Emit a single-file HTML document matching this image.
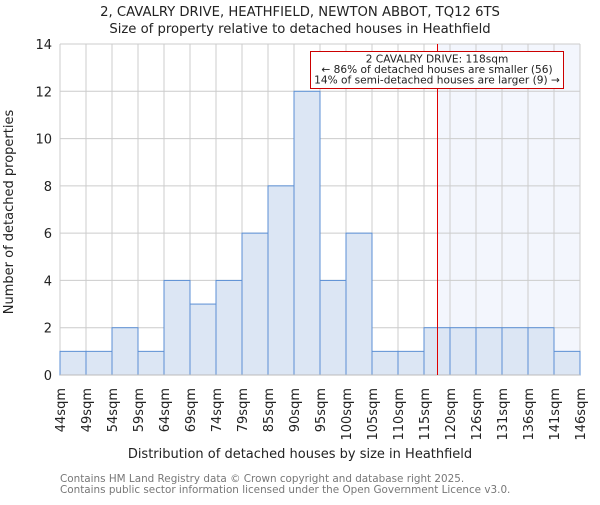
<!DOCTYPE html>
<html><head><meta charset="utf-8"><style>
body{margin:0;background:#fff;}
svg{font-family:"DejaVu Sans","Liberation Sans",sans-serif;}
</style></head><body>
<svg id="c" width="600" height="500">
<text x="300" y="16" text-anchor="middle" font-size="13.2" fill="#222">2, CAVALRY DRIVE, HEATHFIELD, NEWTON ABBOT, TQ12 6TS</text>
<text x="300" y="33" text-anchor="middle" font-size="13.2" fill="#222">Size of property relative to detached houses in Heathfield</text>
<text x="300" y="458" text-anchor="middle" font-size="13" fill="#222">Distribution of detached houses by size in Heathfield</text>
<text transform="translate(13,212) rotate(-90)" text-anchor="middle" font-size="13" fill="#222">Number of detached properties</text>
<text x="60" y="482" font-size="10.4" fill="#777">Contains HM Land Registry data © Crown copyright and database right 2025.</text>
<text x="60" y="493" font-size="10.4" fill="#777">Contains public sector information licensed under the Open Government Licence v3.0.</text>
</svg>
<script>
const categories=["44sqm","49sqm","54sqm","59sqm","64sqm","69sqm","74sqm","79sqm","85sqm","90sqm","95sqm","100sqm","105sqm","110sqm","115sqm","120sqm","126sqm","131sqm","136sqm","141sqm","146sqm"];
const values=[1,1,2,1,4,3,4,6,8,12,4,6,1,1,2,2,2,2,2,1];
const yTicks=[0,2,4,6,8,10,12,14];
const markerBin=14.5;
const svg=document.getElementById('c');
const NS='http://www.w3.org/2000/svg';
const L=60,R=580,T=44,B=375,yMax=14;
const bw=(R-L)/values.length;
const x=i=>L+i*bw;
const y=v=>B-(B-T)*v/yMax;
function mk(t,a,p){const e=document.createElementNS(NS,t);for(const k in a)e.setAttribute(k,a[k]);(p||svg).appendChild(e);return e;}
const mx=Math.floor(x(markerBin))+0.5;
const sh=mk('rect',{x:mx,y:T,width:R-mx,height:B-T,fill:'#f3f6fd'});


yTicks.forEach(t=>{
 const g=mk('line',{x1:L,x2:R,y1:y(t),y2:y(t),stroke:'#ccc','stroke-width':1});
 
 
 const tx=mk('text',{x:L-8,y:y(t)+5,'text-anchor':'end','font-size':13,fill:'#222'});
 tx.textContent=t;
 
 
});
categories.forEach((c,i)=>{
 const g=mk('line',{x1:x(i),x2:x(i),y1:T,y2:B,stroke:'#ccc','stroke-width':1});
 
 
 const tx=mk('text',{transform:`translate(${x(i)+5},388) rotate(-90)`,'text-anchor':'end','font-size':13,fill:'#222'});
 tx.textContent=c;
 
 
});
values.forEach((v,i)=>{
 const r=mk('rect',{x:x(i),y:y(v),width:bw,height:B-y(v),fill:'#dce6f4',stroke:'#5b8fd4','stroke-width':1});
 
 
});
const ax=mk('line',{x1:L,x2:R,y1:B,y2:B,stroke:'#bbb','stroke-width':1});


const ml=mk('line',{x1:mx,x2:mx,y1:T,y2:B,stroke:'#e00000','stroke-width':1});


const box=mk('rect',{x:310.5,y:51.5,width:253,height:37,fill:'#fff',stroke:'#cc0000','stroke-width':1});


["2 CAVALRY DRIVE: 118sqm","← 86% of detached houses are smaller (56)","14% of semi-detached houses are larger (9) →"].forEach((s,k)=>{
 const t=mk('text',{x:437,y:62.5+k*10.5,'text-anchor':'middle','font-size':10.6,fill:'#222'});
 t.textContent=s;
 
 
});
</script>
</body></html>
